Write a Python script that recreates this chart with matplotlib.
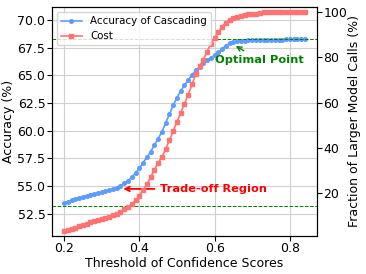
import matplotlib
matplotlib.use("Agg")
import matplotlib.pyplot as plt
import numpy as np

# ---------------------------------------------------------------------------
# Data
# ---------------------------------------------------------------------------
thresholds = np.round(np.arange(0.20, 0.845, 0.01), 2)

accuracy = [
    53.48, 53.60, 53.72, 53.83, 53.93, 54.03, 54.13, 54.22, 54.30, 54.38,
    54.45, 54.53, 54.62, 54.72, 54.85, 55.02, 55.25, 55.50, 55.80, 56.20,
    56.60, 57.10, 57.60, 58.10, 58.70, 59.30, 59.90, 60.70, 61.50, 62.30,
    63.00, 63.60, 64.10, 64.60, 65.05, 65.45, 65.80, 66.10, 66.40, 66.60,
    66.85, 67.10, 67.40, 67.70, 67.90, 68.00, 68.08, 68.12, 68.15, 68.18,
    68.20, 68.20, 68.21, 68.22, 68.22, 68.23, 68.23, 68.24, 68.24, 68.25,
    68.25, 68.26, 68.26, 68.27, 68.27,
]

cost = [
    3.3, 3.8, 4.4, 5.0, 5.5, 5.9, 6.5, 7.3, 7.9, 8.2,
    8.6, 9.1, 9.8, 10.4, 11.1, 12.0, 13.0, 14.0, 15.3, 17.0,
    19.0, 21.5, 24.0, 27.2, 30.3, 33.5, 36.0, 39.5, 43.5, 47.5,
    51.5, 55.5, 59.5, 63.5, 68.0, 72.5, 76.0, 79.0, 82.5, 86.0,
    88.5, 91.0, 93.5, 95.3, 96.5, 97.2, 97.7, 98.0, 98.6, 99.1,
    99.2, 99.2, 99.3, 100.0, 100.0, 100.0, 100.0, 100.0, 100.0, 100.0,
    100.0, 100.0, 100.0, 100.0, 100.0,
]

best_acc = 68.3
base_acc = 53.2

BLUE = "#5d9cff"
RED = "#ff7373"

# ---------------------------------------------------------------------------
# Figure
# ---------------------------------------------------------------------------
plt.rcParams["font.size"] = 9
plt.rcParams["xtick.major.pad"] = 1.2
plt.rcParams["ytick.major.pad"] = 1.2

fig = plt.figure(figsize=(3.66, 2.74), dpi=100)
ax1 = fig.add_axes([0.142, 0.139, 0.724, 0.836])
ax2 = ax1.twinx()

l1, = ax1.plot(thresholds, accuracy, color=BLUE, marker="o", markersize=2.6,
               linewidth=1.2, label="Accuracy of Cascading")
l2, = ax2.plot(thresholds, cost, color=RED, marker="s", markersize=2.6,
               linewidth=1.2, label="Cost")

ax1.axhline(best_acc, color="green", linestyle="--", linewidth=0.7)
ax1.axhline(base_acc, color="green", linestyle="--", linewidth=0.7)

ax1.grid(True, color="#d0d0d0", linewidth=0.8)
ax1.set_axisbelow(True)

ax1.set_ylim(50.5, 71.2)
ax2.set_ylim(1.3, 102.2)
ax2.set_yticks([20, 40, 60, 80, 100])

ax1.set_xlabel("Threshold of Confidence Scores", labelpad=1)
ax1.set_ylabel("Accuracy (%)", labelpad=2)
ax2.set_ylabel("Fraction of Larger Model Calls (%)", labelpad=0.5)

ax1.annotate("Optimal Point", xy=(0.65, 67.8), xytext=(0.60, 66.4),
             xycoords="data", ha="left", va="center",
             fontsize=8.2, fontweight="bold", color="green",
             arrowprops=dict(arrowstyle="->", color="green", lw=1.0))
ax1.annotate("Trade-off Region", xy=(0.35, 54.75), xytext=(0.455, 54.75),
             ha="left", va="center",
             fontsize=8.2, fontweight="bold", color="red",
             arrowprops=dict(arrowstyle="->", color="red", lw=1.3))

ax2.legend(handles=[l1, l2], loc="upper left", fontsize=7.4)

fig.savefig("out.png", dpi=100)
